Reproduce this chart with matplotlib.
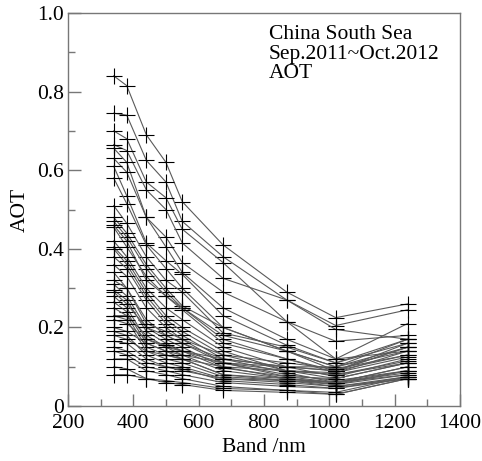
import numpy as np
import matplotlib
matplotlib.use("Agg")
import matplotlib.pyplot as plt
from matplotlib.ticker import MultipleLocator, FuncFormatter

# wavelengths of the sun photometer channels (nm)
bands = [340, 380, 440, 500, 550, 675, 870, 1020, 1240]

aot_01 = [0.84, 0.815, 0.69, 0.62, 0.52, 0.41, 0.29, 0.225, 0.26]
aot_02 = [0.745, 0.74, 0.625, 0.57, 0.47, 0.38, 0.27, 0.205, 0.245]
aot_03 = [0.70, 0.68, 0.57, 0.53, 0.45, 0.365, 0.215, 0.165, 0.18]
aot_04 = [0.665, 0.65, 0.55, 0.50, 0.415, 0.325, 0.27, 0.195, 0.17]
aot_05 = [0.656, 0.62, 0.48, 0.43, 0.365, 0.29, 0.215, 0.12, 0.14]
aot_06 = [0.63, 0.595, 0.48, 0.405, 0.34, 0.25, 0.17, 0.12, 0.21]
aot_07 = [0.61, 0.535, 0.415, 0.37, 0.335, 0.23, 0.155, 0.11, 0.17]
aot_08 = [0.58, 0.515, 0.41, 0.35, 0.30, 0.20, 0.14, 0.10, 0.15]
aot_09 = [0.51, 0.465, 0.38, 0.32, 0.29, 0.186, 0.15, 0.11, 0.16]
aot_10 = [0.48, 0.44, 0.36, 0.30, 0.255, 0.20, 0.14, 0.09, 0.15]
aot_11 = [0.47, 0.43, 0.35, 0.29, 0.25, 0.18, 0.14, 0.10, 0.14]
aot_12 = [0.455, 0.405, 0.33, 0.28, 0.25, 0.17, 0.12, 0.09, 0.13]
aot_13 = [0.46, 0.42, 0.32, 0.28, 0.245, 0.16, 0.12, 0.085, 0.125]
aot_14 = [0.42, 0.38, 0.30, 0.25, 0.22, 0.15, 0.10, 0.075, 0.12]
aot_15 = [0.405, 0.37, 0.29, 0.23, 0.20, 0.14, 0.09, 0.08, 0.115]
aot_16 = [0.40, 0.36, 0.28, 0.22, 0.19, 0.13, 0.09, 0.07, 0.11]
aot_17 = [0.38, 0.35, 0.27, 0.21, 0.18, 0.12, 0.085, 0.06, 0.085]
aot_18 = [0.36, 0.33, 0.25, 0.20, 0.17, 0.11, 0.08, 0.065, 0.09]
aot_19 = [0.34, 0.30, 0.22, 0.18, 0.16, 0.11, 0.075, 0.06, 0.10]
aot_20 = [0.31, 0.28, 0.20, 0.17, 0.15, 0.10, 0.07, 0.055, 0.08]
aot_21 = [0.295, 0.27, 0.19, 0.16, 0.14, 0.097, 0.075, 0.07, 0.11]
aot_22 = [0.28, 0.25, 0.17, 0.15, 0.13, 0.09, 0.07, 0.06, 0.10]
aot_23 = [0.265, 0.24, 0.16, 0.14, 0.12, 0.08, 0.065, 0.055, 0.09]
aot_24 = [0.25, 0.23, 0.15, 0.13, 0.12, 0.08, 0.07, 0.06, 0.08]
aot_25 = [0.23, 0.23, 0.18, 0.15, 0.14, 0.11, 0.09, 0.085, 0.14]
aot_26 = [0.23, 0.22, 0.14, 0.12, 0.11, 0.075, 0.065, 0.05, 0.075]
aot_27 = [0.22, 0.21, 0.17, 0.155, 0.14, 0.12, 0.10, 0.09, 0.15]
aot_28 = [0.19, 0.18, 0.13, 0.11, 0.10, 0.07, 0.06, 0.05, 0.07]
aot_29 = [0.18, 0.17, 0.14, 0.13, 0.12, 0.10, 0.09, 0.08, 0.11]
aot_30 = [0.165, 0.16, 0.12, 0.10, 0.095, 0.065, 0.055, 0.045, 0.075]
aot_31 = [0.15, 0.14, 0.11, 0.10, 0.09, 0.07, 0.065, 0.06, 0.09]
aot_32 = [0.14, 0.13, 0.10, 0.09, 0.08, 0.06, 0.05, 0.045, 0.07]
aot_33 = [0.12, 0.12, 0.09, 0.08, 0.07, 0.05, 0.04, 0.035, 0.075]
aot_34 = [0.10, 0.095, 0.07, 0.065, 0.06, 0.045, 0.04, 0.03, 0.07]
aot_35 = [0.08, 0.08, 0.07, 0.06, 0.055, 0.04, 0.035, 0.03, 0.07]
aot_36 = [0.29, 0.26, 0.20, 0.18, 0.16, 0.12, 0.10, 0.10, 0.17]
aot_37 = [0.20, 0.19, 0.16, 0.14, 0.13, 0.11, 0.10, 0.09, 0.16]
aot_38 = [0.32, 0.30, 0.21, 0.19, 0.17, 0.13, 0.11, 0.095, 0.13]

spectra = [aot_01, aot_02, aot_03, aot_04, aot_05, aot_06, aot_07, aot_08,
           aot_09, aot_10, aot_11, aot_12, aot_13, aot_14, aot_15, aot_16,
           aot_17, aot_18, aot_19, aot_20, aot_21, aot_22, aot_23, aot_24,
           aot_25, aot_26, aot_27, aot_28, aot_29, aot_30, aot_31, aot_32,
           aot_33, aot_34, aot_35, aot_36, aot_37, aot_38]

plt.rcParams['font.family'] = ['Liberation Serif', 'DejaVu Serif']
plt.rcParams['font.size'] = 15.5

fig = plt.figure(figsize=(4.82, 4.61), dpi=100)
ax = fig.add_axes([0.141, 0.119, 0.813, 0.853])

for s in spectra:
    ax.plot(bands, s, color='#5a5a5a', lw=0.8, marker='+', markersize=11.5,
            markeredgecolor='black', markeredgewidth=0.8)

ax.set_xlim(200, 1400)
ax.set_ylim(0, 1.0)
ax.xaxis.set_major_locator(MultipleLocator(200))
ax.xaxis.set_minor_locator(MultipleLocator(100))
ax.yaxis.set_major_locator(MultipleLocator(0.2))
ax.yaxis.set_minor_locator(MultipleLocator(0.1))
ax.yaxis.set_major_formatter(FuncFormatter(lambda v, p: '0' if abs(v) < 1e-9 else '%.1f' % v))

ax.tick_params(which='both', direction='in', top=False, right=False,
               color='#777777', width=1)
ax.tick_params(which='major', length=9)
ax.tick_params(which='minor', length=5)
ax.tick_params(axis='x', pad=6)
ax.tick_params(axis='y', pad=3)
for sp in ax.spines.values():
    sp.set_color('#777777')
    sp.set_linewidth(1)

ax.set_xlabel('Band /nm', labelpad=3)
ax.set_ylabel('AOT', labelpad=5)

ax.text(0.512, 0.968, 'China South Sea\nSep.2011~Oct.2012\nAOT',
        transform=ax.transAxes, ha='left', va='top', linespacing=1.02)

fig.savefig('out.png', dpi=100)
